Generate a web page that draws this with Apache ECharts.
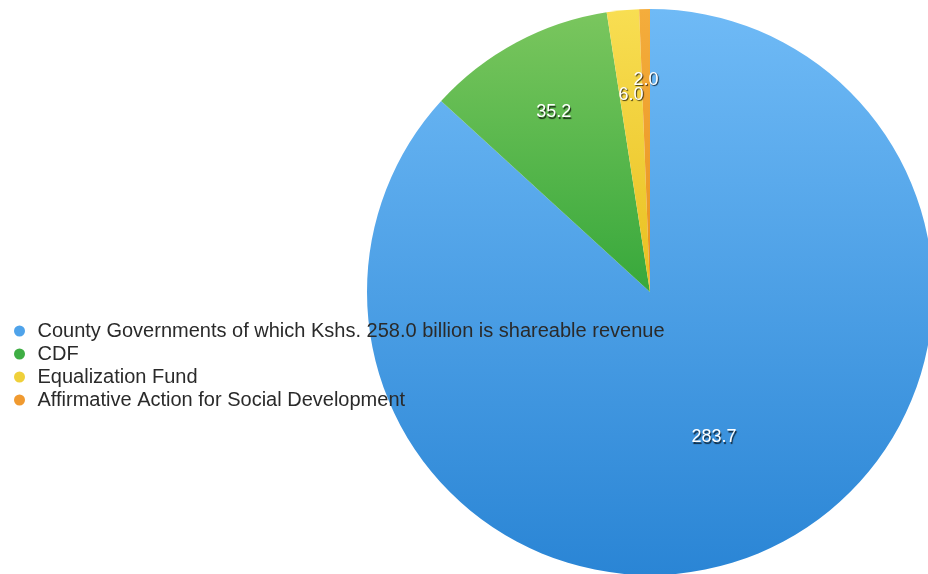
<!DOCTYPE html>
<html>
<head>
<meta charset="utf-8">
<title>Devolved transfers</title>
<script src="https://cdn.jsdelivr.net/npm/echarts@6/dist/echarts.min.js"></script>
<style>
  html, body { margin: 0; padding: 0; background: #ffffff; }
  #chart { width: 928px; height: 574px; }
</style>
</head>
<body>
<div id="chart"></div>
<script>
// Allocations in Kshs. billion
const categories = [
  'County Governments of which Kshs. 258.0 billion is shareable revenue',
  'CDF',
  'Equalization Fund',
  'Affirmative Action for Social Development'
];
const values = [283.7, 35.2, 6.0, 2.0];
const titleText = 'Transfers as per the Proposal (Kshs.)';

const sliceColors = [
  ['#6fbaf6', '#2a85d5'],
  ['#7ac65e', '#37a83b'],
  ['#f8de52', '#e9bf1f'],
  ['#f4ad3c', '#e8901e']
];
const legendColors = ['#4fa3ea', '#3fae44', '#efd03a', '#f09a30'];

// invisible ring (inner, outer as fractions of R) that carries each value label
const labelRing = [[0.1, 1], [0.42, 1], [0.38, 1], [0.5, 0.98]];

function grad(c) {
  return new echarts.graphic.LinearGradient(0, 0, 0, 1, [
    { offset: 0, color: c[0] },
    { offset: 1, color: c[1] }
  ]);
}

const center = [650, 292];
const R = 283;

const baseData = categories.map((name, i) => ({
  name,
  value: values[i],
  itemStyle: { color: grad(sliceColors[i]) }
}));

const labelStyle = {
  show: true,
  position: 'inside',
  color: '#ffffff',
  fontFamily: 'Liberation Sans, Arial, sans-serif',
  fontSize: 18,
  textShadowColor: 'rgba(0,0,0,0.75)',
  textShadowBlur: 1,
  textShadowOffsetX: 1,
  textShadowOffsetY: 1.5,
  formatter: p => p.value.toFixed(1)
};

function labelSeries(k) {
  return {
    type: 'pie',
    center,
    radius: [R * labelRing[k][0], R * labelRing[k][1]],
    startAngle: 90,
    clockwise: true,
    z: 3,
    silent: true,
    legendHoverLink: false,
    avoidLabelOverlap: false,
    label: labelStyle,
    labelLine: { show: false },
    labelLayout: { hideOverlap: false },
    data: categories.map((name, i) => ({
      name,
      value: values[i],
      itemStyle: { color: 'rgba(0,0,0,0)' },
      label: { show: i === k }
    }))
  };
}

const chart = echarts.init(document.getElementById('chart'), null, { renderer: 'canvas' });
chart.setOption({
  animation: false,
  backgroundColor: '#ffffff',
  title: {
    text: titleText,
    left: 10,
    top: -44,
    textStyle: {
      fontFamily: 'Liberation Serif, Times New Roman, serif',
      fontSize: 40,
      fontWeight: 'bold',
      color: '#111111'
    }
  },
  legend: {
    orient: 'vertical',
    left: 9,
    top: 316,
    itemWidth: 14,
    itemHeight: 11,
    itemGap: 3,
    icon: 'circle',
    selectedMode: false,
    data: categories.map((name, i) => ({ name, itemStyle: { color: legendColors[i] } })),
    textStyle: {
      fontFamily: 'Liberation Sans, Arial, sans-serif',
      fontSize: 20,
      color: '#2a2a2a',
      padding: [0, 0, 0, 6]
    }
  },
  series: [
    {
      type: 'pie',
      center,
      radius: [0, R],
      startAngle: 90,
      clockwise: true,
      z: 1,
      silent: true,
      avoidLabelOverlap: false,
      label: { show: false },
      labelLine: { show: false },
      itemStyle: { borderWidth: 0 },
      data: baseData
    }
  ].concat(categories.map((_, k) => labelSeries(k)))
});
</script>
</body>
</html>
